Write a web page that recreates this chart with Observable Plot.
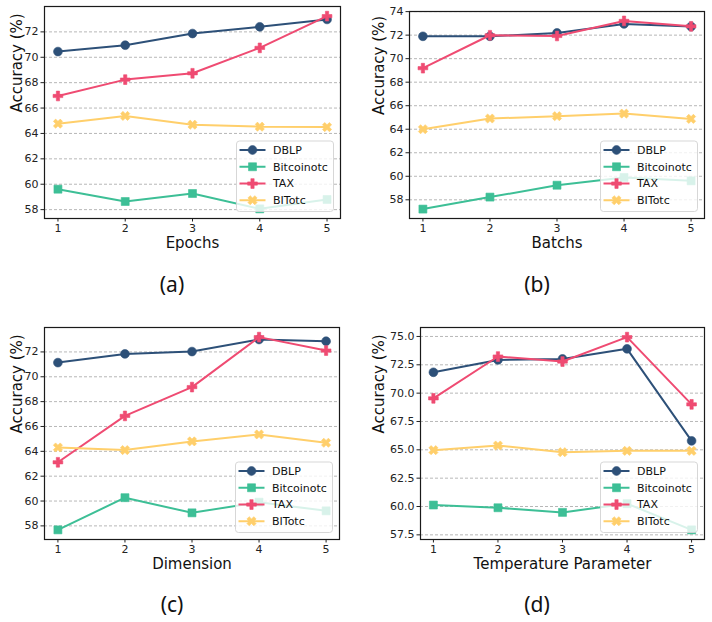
<!DOCTYPE html>
<html>
<head>
<meta charset="utf-8">
<script src="https://cdn.jsdelivr.net/npm/d3@7"></script>
<script src="https://cdn.jsdelivr.net/npm/@observablehq/plot@0.6"></script>
<style>
  html, body { margin: 0; padding: 0; background: #fff; }
  #fig { position: relative; width: 712px; height: 622px; overflow: hidden; background: #fff; }
  .panel { position: absolute; }
  .panel svg, .panel svg text { font-family: "DejaVu Sans", sans-serif !important; }
  .tag { position: absolute; width: 60px; text-align: center; font-family: "Noto Sans", "DejaVu Sans", sans-serif; font-size: 21px; line-height: 24px; color: #111; }
</style>
</head>
<body>
<div id="fig"></div>
<script>
// Shared x positions and series names
const steps = [1, 2, 3, 4, 5];
const seriesNames = ["DBLP", "Bitcoinotc", "TAX", "BITotc"];
const seriesColors = ["#2d5078", "#3dbf96", "#ef4b72", "#ffcf6b"];

// (a) Epochs
const dblpEpochs = [70.45, 70.95, 71.87, 72.40, 72.98];
const btcEpochs  = [59.61, 58.64, 59.27, 58.06, 58.80];
const taxEpochs  = [66.95, 68.24, 68.74, 70.74, 73.24];
const bitEpochs  = [64.77, 65.38, 64.69, 64.53, 64.50];

// (b) Batchs
const dblpBatch = [71.90, 71.90, 72.19, 72.95, 72.73];
const btcBatch  = [57.21, 58.23, 59.24, 59.90, 59.61];
const taxBatch  = [69.19, 71.99, 71.93, 73.21, 72.75];
const bitBatch  = [64.00, 64.91, 65.11, 65.33, 64.88];

// (c) Dimension
const dblpDim = [71.14, 71.84, 72.03, 73.00, 72.86];
const btcDim  = [57.68, 60.27, 59.05, 59.91, 59.21];
const taxDim  = [63.12, 66.85, 69.17, 73.19, 72.11];
const bitDim  = [64.31, 64.10, 64.80, 65.36, 64.69];

// (d) Temperature Parameter
const dblpTemp = [71.84, 72.93, 73.02, 73.91, 65.79];
const btcTemp  = [60.13, 59.89, 59.48, 60.25, 57.94];
const taxTemp  = [69.54, 73.23, 72.79, 74.94, 69.01];
const bitTemp  = [64.97, 65.38, 64.79, 64.91, 64.91];

// Y tick labels per panel
const ticksEpochs = [58, 60, 62, 64, 66, 68, 70, 72];
const ticksBatch  = [58, 60, 62, 64, 66, 68, 70, 72, 74];
const ticksDim    = [58, 60, 62, 64, 66, 68, 70, 72];
const ticksTemp   = [57.5, 60.0, 62.5, 65.0, 67.5, 70.0, 72.5, 75.0];

// Filled "X" marker: the cross symbol turned by 45 degrees
const filledX = {
  draw(context, size) {
    const r = Math.sqrt(size / 5) / 2;
    const pts = [[-3*r,-r],[-r,-r],[-r,-3*r],[r,-3*r],[r,-r],[3*r,-r],[3*r,r],[r,r],[r,3*r],[-r,3*r],[-r,r],[-3*r,r]];
    const c = Math.SQRT1_2;
    pts.forEach(([x, y], i) => {
      const px = (x - y) * c, py = (x + y) * c;
      i ? context.lineTo(px, py) : context.moveTo(px, py);
    });
    context.closePath();
  }
};
const markers = [
  {symbol: "circle", r: 4.4},
  {symbol: "square", r: 4.5},
  {symbol: "cross", r: 4.1},
  {symbol: filledX, r: 4.1}
];
const d3Symbols = [d3.symbolCircle, d3.symbolSquare, d3.symbolCross, filledX];

function panel({left, top, width, height, margin, xLabel, yLabelX, series, yTicks, tickFmt}) {
  const rows = [];
  series.forEach((vals, s) => vals.forEach((v, i) => rows.push({step: steps[i], value: v, name: seriesNames[s]})));
  const all = series.flat();
  const lo = d3.min(all), hi = d3.max(all), pad = (hi - lo) * 0.05;

  const marks = [
    Plot.gridY(yTicks, {stroke: "#9a9a9a", strokeOpacity: 0.9, strokeWidth: 0.8, strokeDasharray: "3,2"}),
    Plot.axisY(yTicks, {tickSize: 3.5, tickPadding: 2.5, fontSize: 11, tickFormat: tickFmt, label: null, stroke: "#222"}),
    Plot.axisX(steps, {tickSize: 3.5, tickPadding: 2, fontSize: 11, tickFormat: d3.format("d"), label: null, stroke: "#222"})
  ];
  seriesNames.forEach((name, s) => {
    const data = rows.filter(d => d.name === name);
    marks.push(Plot.line(data, {x: "step", y: "value", stroke: seriesColors[s], strokeWidth: 2}));
    marks.push(Plot.dot(data, {x: "step", y: "value", fill: seriesColors[s], stroke: seriesColors[s], strokeWidth: 0.6, symbol: markers[s].symbol, r: markers[s].r}));
  });
  marks.push(Plot.frame({stroke: "#1a1a1a", strokeWidth: 1.2}));
  marks.push(Plot.text([xLabel], {frameAnchor: "bottom", lineAnchor: "top", dy: 19, fontSize: 15, fill: "#111"}));
  marks.push(Plot.text(["Accuracy (%)"], {frameAnchor: "left", lineAnchor: "bottom", rotate: -90, dx: -(margin[3] - yLabelX), fontSize: 15, fill: "#111"}));

  const chart = Plot.plot({
    width, height,
    marginTop: margin[0], marginRight: margin[1], marginBottom: margin[2], marginLeft: margin[3],
    x: {domain: [0.8, 5.2], axis: null},
    y: {domain: [lo - pad, hi + pad], axis: null},
    style: {fontFamily: "'DejaVu Sans', sans-serif", color: "#222", background: "transparent", overflow: "visible"},
    marks
  });

  // Legend in the lower right corner of the frame
  const svg = d3.select(chart);
  const bw = 97, bh = 70.5;
  const bx = width - margin[1] - 6.5 - bw;
  const by = height - margin[2] - 6.5 - bh;
  const g = svg.append("g").attr("transform", `translate(${bx},${by})`).attr("text-anchor", "start");
  g.append("rect").attr("width", bw).attr("height", bh).attr("rx", 3)
    .attr("fill", "#fff").attr("fill-opacity", 0.8).attr("stroke", "#d2d2d2").attr("stroke-width", 0.9);
  seriesNames.forEach((name, s) => {
    const yy = 9 + s * 16.75;
    g.append("line").attr("x1", 3).attr("x2", 29).attr("y1", yy).attr("y2", yy)
      .attr("stroke", seriesColors[s]).attr("stroke-width", 2);
    g.append("path").attr("transform", `translate(16,${yy})`)
      .attr("d", d3.symbol(d3Symbols[s], Math.PI * markers[s].r * markers[s].r)())
      .attr("fill", seriesColors[s]).attr("stroke", seriesColors[s]).attr("stroke-width", 0.6);
    g.append("text").attr("x", 36.5).attr("y", yy).attr("dy", "0.35em").attr("text-anchor", "start")
      .attr("font-size", 11).attr("fill", "#111").text(name);
  });

  const wrap = document.createElement("div");
  wrap.className = "panel";
  wrap.style.left = left + "px";
  wrap.style.top = top + "px";
  wrap.appendChild(chart);
  return wrap;
}

const fig = document.getElementById("fig");
fig.appendChild(panel({left: 0, top: 0, width: 356, height: 262, margin: [6, 16, 44, 44], xLabel: "Epochs", yLabelX: 21,
  series: [dblpEpochs, btcEpochs, taxEpochs, bitEpochs], yTicks: ticksEpochs, tickFmt: d3.format("d")}));
fig.appendChild(panel({left: 356, top: 0, width: 356, height: 262, margin: [11, 8, 44, 53], xLabel: "Batchs", yLabelX: 27,
  series: [dblpBatch, btcBatch, taxBatch, bitBatch], yTicks: ticksBatch, tickFmt: d3.format("d")}));
fig.appendChild(panel({left: 0, top: 300, width: 356, height: 284, margin: [27, 17, 45, 44], xLabel: "Dimension", yLabelX: 21,
  series: [dblpDim, btcDim, taxDim, bitDim], yTicks: ticksDim, tickFmt: d3.format("d")}));
fig.appendChild(panel({left: 356, top: 300, width: 356, height: 284, margin: [27, 8, 45, 64], xLabel: "Temperature Parameter", yLabelX: 27,
  series: [dblpTemp, btcTemp, taxTemp, bitTemp], yTicks: ticksTemp, tickFmt: d3.format(".1f")}));

// Sub-figure tags
[["(a)", 172, 284], ["(b)", 537, 284], ["(c)", 172, 604], ["(d)", 537, 604]].forEach(([t, cx, cy]) => {
  const el = document.createElement("div");
  el.className = "tag";
  el.style.left = (cx - 30) + "px";
  el.style.top = (cy - 12) + "px";
  el.textContent = t;
  fig.appendChild(el);
});
</script>
</body>
</html>
